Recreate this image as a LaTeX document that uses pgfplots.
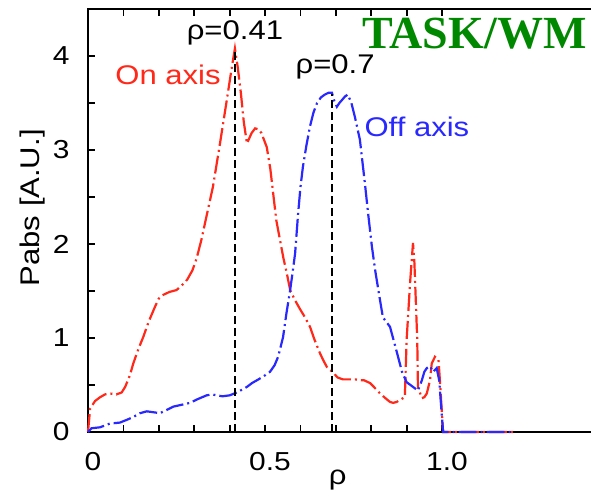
\documentclass[border=0pt]{standalone}
\usepackage{fontspec}
\setmainfont{Liberation Sans}[FakeStretch=1.15]
\newfontfamily\titlefont{Liberation Serif}
\usepackage{pgfplots}
\pgfplotsset{compat=1.18}
\definecolor{myred}{RGB}{255,40,25}
\definecolor{myblue}{RGB}{40,40,255}
\definecolor{mygreen}{RGB}{0,136,0}
\begin{document}
\begin{tikzpicture}
\begin{axis}[
  at={(0,0)}, anchor=south west,
  scale only axis, width=254.9pt, height=211.5pt,
  xmin=0, xmax=1.44, ymin=0, ymax=4.5,
  clip=false,
  axis line style={black, line width=1pt},
  xtick={0,0.5,1.0}, xticklabels={0,0.5,1.0},
  minor x tick num=4,
  ytick={0,1,2,3,4}, minor y tick num=1,
  tick align=inside, tick pos=both,
  major tick length=3.4pt, minor tick length=3.4pt,
  tick style={black, line width=0.9pt},
  minor tick style={black, line width=0.9pt},
  /pgf/number format/assume math mode=true,
  ticklabel style={font=\fontsize{13}{15}\selectfont},
  yticklabel style={anchor=east, inner sep=0pt, xshift=-9pt},
  xticklabel style={anchor=north, inner sep=0pt, yshift=-10pt, xshift=2.5pt},
  xlabel={ρ},
  xlabel style={at={(axis description cs:0.49,0)}, anchor=center, yshift=-24pt, font=\fontsize{13.5}{16}\selectfont},
  ylabel={Pabs [A.U.]},
  ylabel style={at={(axis description cs:0,0.53)}, anchor=center, yshift=27.5pt, font=\fontsize{13.5}{16}\selectfont},
]
\addplot[myred, line width=1.1pt, dash pattern=on 9pt off 2pt on 1pt off 2pt] coordinates {
(0,0) (0.006,0.25) (0.02,0.33) (0.034,0.37) (0.048,0.40) (0.062,0.41) (0.08,0.40) (0.095,0.42)
(0.105,0.48) (0.118,0.6) (0.128,0.73) (0.142,0.88) (0.156,1.01) (0.172,1.18) (0.189,1.33)
(0.2,1.42) (0.213,1.46) (0.23,1.49) (0.25,1.51) (0.265,1.56) (0.28,1.62) (0.295,1.72)
(0.307,1.85) (0.32,2.04) (0.335,2.3) (0.353,2.61) (0.372,3.05) (0.392,3.53) (0.405,3.85)
(0.415,4.08) (0.423,3.88) (0.432,3.60) (0.44,3.3) (0.449,3.07) (0.455,3.12) (0.462,3.18)
(0.472,3.23) (0.482,3.22) (0.49,3.18) (0.498,3.10) (0.505,3.03) (0.515,2.8) (0.523,2.54)
(0.532,2.25) (0.542,2.05) (0.552,1.85) (0.562,1.68) (0.571,1.51) (0.585,1.40) (0.6,1.30)
(0.613,1.22) (0.627,1.12) (0.64,0.98) (0.655,0.84) (0.665,0.76) (0.675,0.69) (0.693,0.63)
(0.705,0.58) (0.72,0.56) (0.74,0.56) (0.755,0.56) (0.768,0.55) (0.78,0.55) (0.797,0.52)
(0.81,0.47) (0.825,0.41) (0.84,0.36) (0.853,0.32) (0.862,0.31) (0.872,0.32) (0.885,0.35)
(0.895,0.37) (0.9,0.98) (0.91,1.6) (0.915,1.86) (0.918,2.01) (0.922,1.8) (0.93,0.98)
(0.932,0.48) (0.943,0.36) (0.95,0.37) (0.957,0.41) (0.966,0.55) (0.971,0.73) (0.98,0.80)
(0.99,0.77) (0.994,0.55) (1.003,0) (1.2,0)
};
\addplot[myblue, line width=1.1pt, dash pattern=on 9pt off 2pt on 1pt off 2pt] coordinates {
(0,0) (0.01,0.04) (0.034,0.05) (0.062,0.09) (0.09,0.10) (0.11,0.13) (0.128,0.16) (0.147,0.20)
(0.166,0.22) (0.185,0.21) (0.203,0.20) (0.22,0.23) (0.241,0.27) (0.265,0.29) (0.288,0.31)
(0.31,0.35) (0.335,0.39) (0.35,0.40) (0.364,0.39) (0.38,0.38) (0.40,0.39) (0.42,0.42)
(0.435,0.45) (0.449,0.48) (0.463,0.52) (0.477,0.55) (0.495,0.59) (0.514,0.64) (0.527,0.71)
(0.537,0.80) (0.545,0.92) (0.551,1.01) (0.56,1.25) (0.571,1.51) (0.578,1.70) (0.585,1.90)
(0.593,2.30) (0.6,2.60) (0.607,2.82) (0.617,3.05) (0.627,3.25) (0.637,3.40) (0.647,3.50)
(0.658,3.56) (0.669,3.59) (0.68,3.61) (0.689,3.61) (0.696,3.52) (0.703,3.46) (0.71,3.50)
(0.717,3.53) (0.726,3.57) (0.734,3.59) (0.744,3.50) (0.754,3.35) (0.768,3.11) (0.782,2.65)
(0.792,2.30) (0.802,1.97) (0.812,1.70) (0.825,1.40) (0.833,1.22) (0.843,1.17) (0.853,1.12)
(0.863,0.98) (0.873,0.84) (0.887,0.64) (0.9,0.53) (0.918,0.48) (0.932,0.44) (0.943,0.55)
(0.95,0.64) (0.957,0.68) (0.966,0.70) (0.975,0.64) (0.985,0.68) (0.992,0.55) (1.003,0) (1.2,0)
};
\addplot[black, line width=1pt, dash pattern=on 4pt off 2pt] coordinates {(0.415,0) (0.415,4.06)};
\addplot[black, line width=1pt, dash pattern=on 4pt off 2pt] coordinates {(0.69,0) (0.69,3.6)};
\node[font=\fontsize{13.5}{16}\selectfont] at (axis cs:0.415,4.245) {ρ=0.41};
\node[font=\fontsize{13.5}{16}\selectfont] at (axis cs:0.698,3.88) {ρ=0.7};
\node[font=\fontsize{13.5}{16}\selectfont, text=myred] at (axis cs:0.226,3.80) {On axis};
\node[font=\fontsize{13.5}{16}\selectfont, text=myblue] at (axis cs:0.929,3.245) {Off axis};
\node[anchor=base west, inner sep=0pt, font=\titlefont\bfseries\fontsize{23}{27}\selectfont, text=mygreen] at (axis cs:0.774,4.085) {TASK/WM};
\end{axis}
\pgfresetboundingbox
\path[use as bounding box] (-44pt,-31.5pt) rectangle (251.5pt,216pt);
\end{tikzpicture}
\end{document}
